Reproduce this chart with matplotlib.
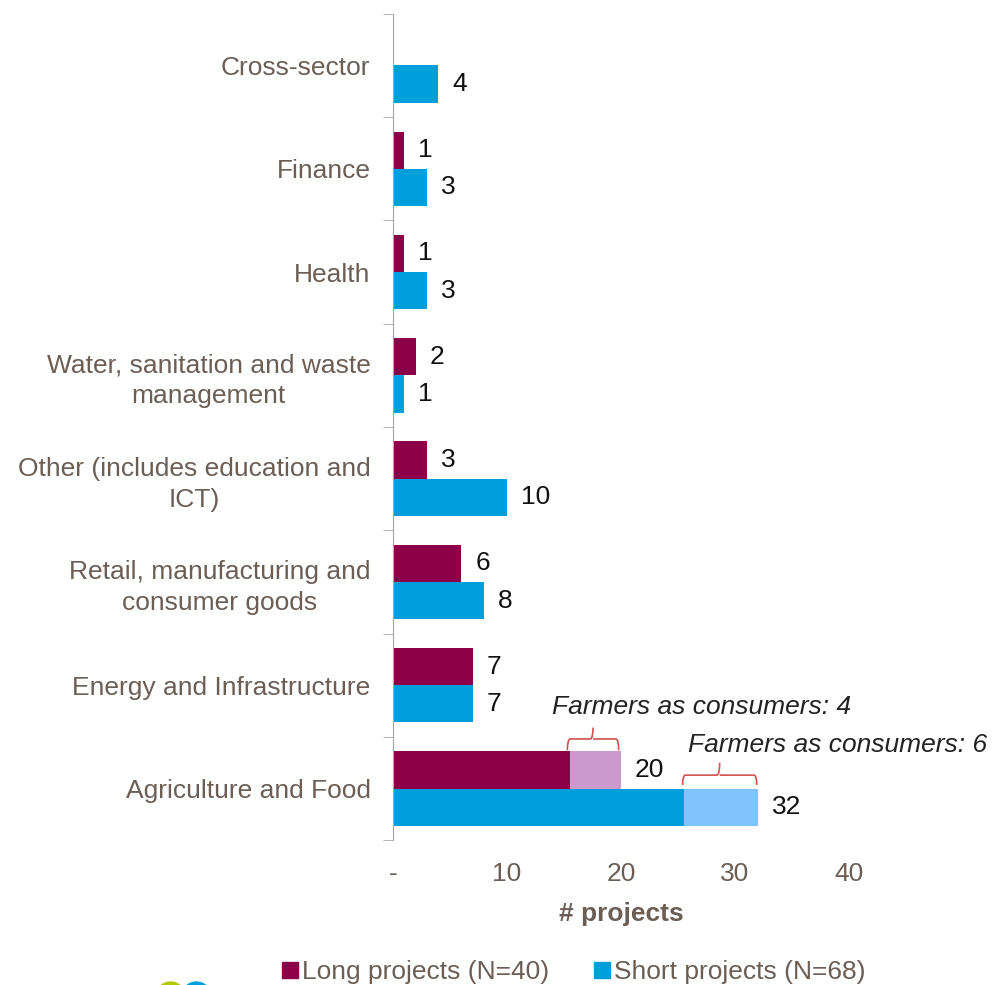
import numpy as np
import matplotlib.pyplot as plt
from matplotlib.lines import Line2D
from matplotlib.path import Path
from matplotlib.patches import PathPatch, Ellipse

plt.rcParams['font.family'] = ['Liberation Sans', 'DejaVu Sans']

# data
categories = ['Cross-sector', 'Finance', 'Health',
              'Water, sanitation and waste\nmanagement',
              'Other (includes education and\nICT)',
              'Retail, manufacturing and\nconsumer goods',
              'Energy and Infrastructure', 'Agriculture and Food']
long_projects = [0, 1, 1, 2, 3, 6, 7, 20]
short_projects = [4, 3, 3, 1, 10, 8, 7, 32]
# farmers-as-consumers share of Agriculture and Food (drawn lighter)
long_farmers = 4.5
short_farmers = 6.5
long_farmers_label = 'Farmers as consumers: 4'
short_farmers_label = 'Farmers as consumers: 6'
x_ticks = [0, 10, 20, 30, 40]
x_ticklabels = ['-', '10', '20', '30', '40']

c_long = '#8c004a'
c_long_light = '#cc99cc'
c_short = '#009fdb'
c_short_light = '#80c4ff'
grey_txt = '#6b5e55'
brace_col = '#d05050'


def draw_brace(ax, x0, x1, y_end, y_line, y_tip):
    # curly brace opening downwards, ends at y_end, tip at y_tip
    xm = (x0 + x1) / 2
    dx = 0.25
    verts = [(x0, y_end), (x0, y_line), (x0 + dx, y_line),
             (xm - dx, y_line), (xm, y_line), (xm, y_tip),
             (xm, y_line), (xm + dx, y_line),
             (x1 - dx, y_line), (x1, y_line), (x1, y_end)]
    codes = [Path.MOVETO, Path.CURVE3, Path.CURVE3,
             Path.LINETO, Path.CURVE3, Path.CURVE3,
             Path.MOVETO, Path.LINETO,
             Path.LINETO, Path.CURVE3, Path.CURVE3]
    ax.add_patch(PathPatch(Path(verts, codes), fill=False, ec=brace_col, lw=1.2))


def main():
    fig = plt.figure(figsize=(9.92, 9.85), dpi=100)
    ax = fig.add_axes([0.396, 0.147, 0.46, 0.839])

    y = np.arange(len(categories))
    h = 0.36
    long_base = np.array(long_projects, dtype=float)
    short_base = np.array(short_projects, dtype=float)
    long_base[-1] -= long_farmers
    short_base[-1] -= short_farmers

    ax.barh(y - h / 2, long_base, height=h, color=c_long)
    ax.barh(y + h / 2, short_base, height=h, color=c_short)
    ax.barh(y[-1] - h / 2, long_farmers, left=long_base[-1], height=h, color=c_long_light)
    ax.barh(y[-1] + h / 2, short_farmers, left=short_base[-1], height=h, color=c_short_light)

    # value labels
    for i in range(len(categories)):
        if long_projects[i] > 0:
            ax.annotate(str(long_projects[i]), (long_projects[i], y[i] - h / 2),
                        xytext=(10, 0), textcoords='offset points',
                        ha='left', va='center', fontsize=19, color='#111111')
        ax.annotate(str(short_projects[i]), (short_projects[i], y[i] + h / 2),
                    xytext=(10, 0), textcoords='offset points',
                    ha='left', va='center', fontsize=19, color='#111111')

    # braces and notes for Agriculture and Food
    draw_brace(ax, long_base[-1] - 0.2, long_projects[-1] - 0.2, 6.63, 6.52, 6.41)
    draw_brace(ax, short_base[-1] - 0.1, short_projects[-1] - 0.1, 6.965, 6.87, 6.75)
    ax.text(13.95, 6.21, long_farmers_label, fontsize=19, style='italic',
            color='#222222', ha='left', va='center')
    ax.text(25.9, 6.58, short_farmers_label, fontsize=19, style='italic',
            color='#222222', ha='left', va='center')

    ax.set_ylim(len(categories) - 0.5, -0.5)
    ax.set_xlim(0, 40)
    ax.set_yticks(y)
    ax.set_yticklabels(categories, fontsize=19, color=grey_txt,
                       multialignment='center', linespacing=1.35)
    ax.tick_params(axis='y', which='major', length=0, pad=16)
    ax.set_yticks(np.arange(-0.5, len(categories)), minor=True)
    ax.tick_params(axis='y', which='minor', length=7, color='#a6a6a6', direction='out')

    ax.set_xticks(x_ticks)
    ax.set_xticklabels(x_ticklabels, fontsize=19, color=grey_txt)
    ax.tick_params(axis='x', length=0, pad=16)
    ax.set_xlabel('# projects', fontsize=19, fontweight='bold', color=grey_txt, labelpad=11)

    for s in ['top', 'right', 'bottom']:
        ax.spines[s].set_visible(False)
    ax.spines['left'].set_color('#a6a6a6')

    handles = [Line2D([], [], ls='none', marker='s', markersize=11, color=c_long),
               Line2D([], [], ls='none', marker='s', markersize=11, color=c_short)]
    fig.legend(handles, ['Long projects (N=40)', 'Short projects (N=68)'],
               loc='center', bbox_to_anchor=(0.577, 0.013), ncol=2, frameon=False,
               fontsize=19, labelcolor=grey_txt, handletextpad=0.05,
               columnspacing=1.6, handlelength=0.8)

    # partially visible logo at the bottom edge
    fig.patches.append(Ellipse((0.172, -0.012), 0.03, 0.03, transform=fig.transFigure,
                               color='#b5c800', figure=fig))
    fig.patches.append(Ellipse((0.198, -0.012), 0.03, 0.03, transform=fig.transFigure,
                               color='#00a0dc', figure=fig))

    fig.savefig('out.png', dpi=100)


if __name__ == '__main__':
    main()
